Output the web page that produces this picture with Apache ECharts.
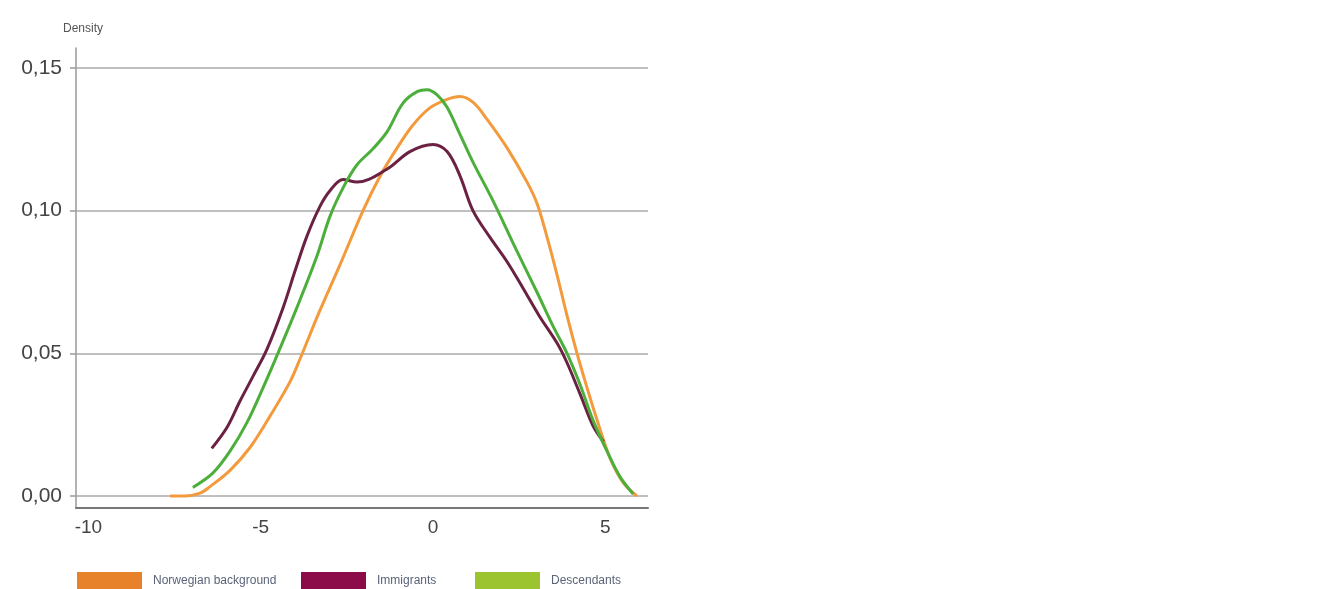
<!DOCTYPE html>
<html>
<head>
<meta charset="utf-8">
<script src="https://cdn.jsdelivr.net/npm/echarts@6/dist/echarts.min.js"></script>
<style>html,body{margin:0;padding:0;background:#fff}#c{width:1322px;height:589px}</style>
</head>
<body>
<div id="c"></div>
<script>
var seriesNames = ['Norwegian background', 'Immigrants', 'Descendants'];
var yTicks = [0, 0.05, 0.10, 0.15];
var xTicks = [-10, -5, 0, 5];

var norwegianX = [-7.63, -7.2, -6.76, -6.47, -5.89, -5.31, -4.73, -4.15, -3.86, -3.3, -2.70, -2.03, -1.54, -1.04, -0.58, -0.09, 0.41, 0.78, 1.16, 1.57, 2.15, 2.73, 3.02, 3.31, 3.60, 3.89, 4.18, 4.47, 4.76, 5.14, 5.52, 5.92];
var norwegianY = [0.000, 0.000, 0.001, 0.0033, 0.009, 0.017, 0.028, 0.040, 0.048, 0.0645, 0.081, 0.100, 0.112, 0.122, 0.130, 0.136, 0.139, 0.140, 0.138, 0.132, 0.122, 0.110, 0.1025, 0.0907, 0.0775, 0.0632, 0.050, 0.038, 0.0267, 0.0133, 0.0047, 0.000];

var immigrantsX = [-6.42, -5.98, -5.60, -5.22, -4.82, -4.35, -4.00, -3.66, -3.28, -2.99, -2.61, -2.21, -1.34, -0.67, 0.0, 0.41, 0.78, 1.16, 1.65, 2.15, 2.61, 3.08, 3.60, 3.89, 4.27, 4.64, 4.95];
var immigrantsY = [0.0167, 0.0240, 0.0333, 0.0420, 0.0514, 0.0660, 0.0790, 0.0910, 0.1015, 0.1070, 0.1109, 0.1100, 0.1145, 0.1207, 0.1232, 0.1207, 0.1123, 0.100, 0.0907, 0.0821, 0.0729, 0.0632, 0.0536, 0.0467, 0.0357, 0.0247, 0.019];

var descendantsX = [-6.97, -6.39, -5.89, -5.40, -4.93, -4.50, -3.95, -3.37, -2.99, -2.61, -2.21, -1.74, -1.34, -0.87, -0.46, -0.17, 0.12, 0.41, 0.78, 1.16, 1.74, 2.44, 3.02, 3.48, 3.89, 4.27, 4.64, 5.05, 5.43, 5.81];
var descendantsY = [0.003, 0.008, 0.0157, 0.0257, 0.038, 0.050, 0.066, 0.084, 0.098, 0.108, 0.116, 0.1217, 0.1275, 0.1377, 0.1417, 0.1424, 0.1406, 0.1362, 0.1268, 0.117, 0.1035, 0.0857, 0.0714, 0.0596, 0.050, 0.039, 0.0267, 0.0157, 0.0067, 0.0007];

var lineColors = ['#F39A3C', '#6B2142', '#4CAF3C'];
var legendColors = ['#E8822A', '#8C0C4A', '#9CC42E'];

function pairs(xs, ys) { return xs.map(function (x, i) { return [x, ys[i]]; }); }

var FONT = '"Liberation Sans", Arial, sans-serif';
var chart = echarts.init(document.getElementById('c'));

var dataSets = [pairs(norwegianX, norwegianY), pairs(immigrantsX, immigrantsY), pairs(descendantsX, descendantsY)];
var legendLefts = [77, 301, 475];

var series = dataSets.map(function (d, i) {
  var s = {
    name: seriesNames[i],
    type: 'line',
    data: d,
    smooth: 0.35,
    showSymbol: false,
    lineStyle: { color: lineColors[i], width: 3 },
    itemStyle: { color: lineColors[i] },
    z: 3 + i
  };
  if (i === 0) {
    s.markLine = {
      silent: true,
      symbol: 'none',
      label: { show: false },
      lineStyle: { color: '#aaaaaa', width: 1.5, type: 'solid' },
      z: 1,
      data: yTicks.map(function (t) { return { yAxis: t }; })
    };
  }
  return s;
});

var legends = seriesNames.map(function (n, i) {
  return {
    left: legendLefts[i],
    top: 572,
    padding: 0,
    orient: 'horizontal',
    icon: 'rect',
    itemWidth: 65,
    itemHeight: 17,
    selectedMode: false,
    data: [{ name: n, itemStyle: { color: legendColors[i] } }],
    textStyle: { fontFamily: FONT, fontSize: 12, color: '#5a6478', padding: [0, 0, 0, 6] }
  };
});

chart.setOption({
  animation: false,
  backgroundColor: '#ffffff',
  grid: { left: 76, right: 674, top: 48, bottom: 81 },
  legend: legends,
  graphic: [{
    type: 'text', left: 63, top: 23,
    style: { text: 'Density', fontFamily: FONT, fontSize: 12, fill: '#555' }
  }],
  xAxis: {
    type: 'value',
    min: -10.36,
    max: 6.24,
    splitLine: { show: false },
    axisLine: { show: true, onZero: false, lineStyle: { color: '#777', width: 2 } },
    axisTick: { show: false },
    axisLabel: {
      customValues: xTicks,
      fontFamily: FONT, fontSize: 19, color: '#444', margin: 10,
      formatter: function (v) { return String(v); }
    }
  },
  yAxis: {
    type: 'value',
    min: -0.0042,
    max: 0.157,
    splitLine: { show: false },
    axisLine: { show: true, onZero: false, lineStyle: { color: '#999', width: 1.5 } },
    axisTick: { show: true, customValues: yTicks, length: 6, lineStyle: { color: '#999', width: 1.5 } },
    axisLabel: {
      customValues: yTicks,
      fontFamily: FONT, fontSize: 21, color: '#444', margin: 14,
      formatter: function (v) { return v.toFixed(2).replace('.', ','); }
    }
  },
  series: series
});
</script>
</body>
</html>
